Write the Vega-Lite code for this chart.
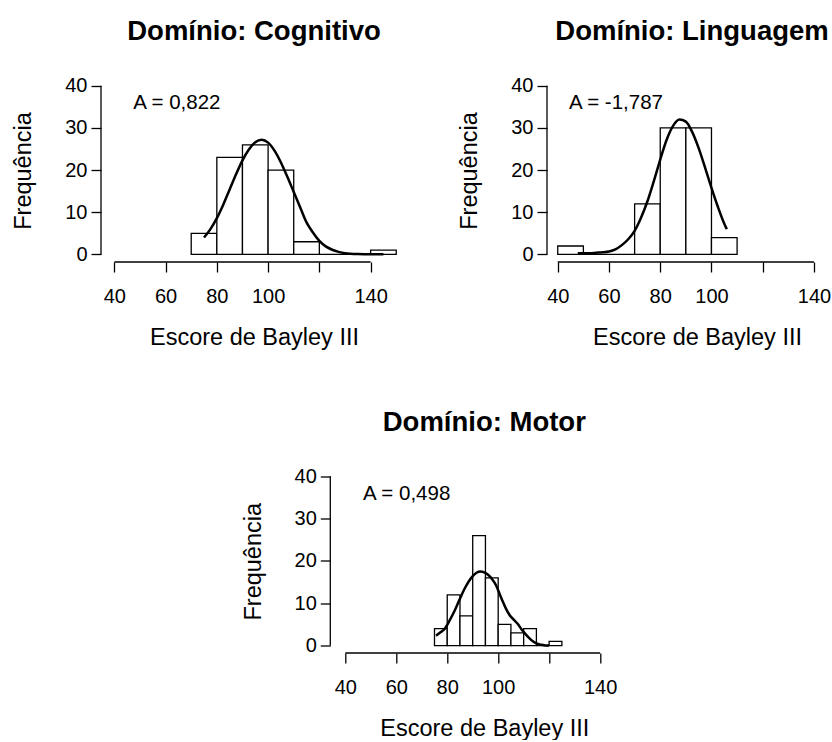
{
  "$schema": "https://vega.github.io/schema/vega-lite/v6.json",
  "background": "white",
  "padding": {"left": 11, "top": 18, "right": 0, "bottom": 0},
  "autosize": {"type": "pad"},
  "config": {
    "font": "Liberation Sans",
    "view": {"stroke": null},
    "axis": {"domain": false, "grid": false, "ticks": true, "tickColor": "black", "tickWidth": 1.3, "tickSize": 10, "labelColor": "black", "labelFontSize": 20, "labelFont": "Liberation Sans", "titleFont": "Liberation Sans", "titleFontSize": 23.5, "titleFontWeight": "normal", "titleColor": "black", "labelFlush": false},
    "axisX": {"labelPadding": 14, "titlePadding": 19, "labelAngle": 0},
    "axisY": {"labelPadding": 4, "titlePadding": 29, "labelAngle": 0, "labelAlign": "right", "labelBaseline": "middle"},
    "title": {"fontSize": 27.5, "fontWeight": "bold", "font": "Liberation Sans", "color": "black", "offset": 30, "anchor": "middle"}
  },
  "datasets": {
    "bins1": [
      {"x0": 70, "x1": 80, "n": 5}, {"x0": 80, "x1": 90, "n": 23}, {"x0": 90, "x1": 100, "n": 26}, {"x0": 100, "x1": 110, "n": 20},
      {"x0": 110, "x1": 120, "n": 3}, {"x0": 120, "x1": 130, "n": 0}, {"x0": 130, "x1": 140, "n": 0}, {"x0": 140, "x1": 150, "n": 1}
    ],
    "curve1": [
      {"x": 75, "y": 4.0}, {"x": 77.5, "y": 6.0}, {"x": 80, "y": 8.6}, {"x": 82.5, "y": 11.8}, {"x": 85, "y": 15.4},
      {"x": 87.5, "y": 19.0}, {"x": 90, "y": 22.3}, {"x": 92.5, "y": 24.9}, {"x": 95, "y": 26.6}, {"x": 97.5, "y": 27.2},
      {"x": 100, "y": 26.5}, {"x": 102.5, "y": 24.6}, {"x": 105, "y": 21.8}, {"x": 107.5, "y": 18.4}, {"x": 110, "y": 14.8},
      {"x": 112.5, "y": 11.2}, {"x": 115, "y": 7.6}, {"x": 117.5, "y": 5.2}, {"x": 120, "y": 3.2}, {"x": 122.5, "y": 1.9},
      {"x": 125, "y": 1.1}, {"x": 127.5, "y": 0.6}, {"x": 130, "y": 0.3}, {"x": 135, "y": 0.1}, {"x": 140, "y": 0.05}, {"x": 145, "y": 0.05}
    ],
    "bins2": [
      {"x0": 40, "x1": 50, "n": 2}, {"x0": 50, "x1": 60, "n": 0}, {"x0": 60, "x1": 70, "n": 0}, {"x0": 70, "x1": 80, "n": 12},
      {"x0": 80, "x1": 90, "n": 30}, {"x0": 90, "x1": 100, "n": 30}, {"x0": 100, "x1": 110, "n": 4}
    ],
    "curve2": [
      {"x": 47.8, "y": 0.3}, {"x": 52.5, "y": 0.3}, {"x": 55, "y": 0.4}, {"x": 57.5, "y": 0.5}, {"x": 60, "y": 0.7},
      {"x": 62.5, "y": 1.2}, {"x": 65, "y": 2.2}, {"x": 67.5, "y": 3.6}, {"x": 70, "y": 5.6}, {"x": 72.5, "y": 8.7},
      {"x": 75, "y": 12.6}, {"x": 77.5, "y": 17.4}, {"x": 80, "y": 22.5}, {"x": 82.5, "y": 27.2}, {"x": 85, "y": 30.5},
      {"x": 87.5, "y": 32.0}, {"x": 90, "y": 31.5}, {"x": 92.5, "y": 29.0}, {"x": 95, "y": 25.2}, {"x": 97.5, "y": 20.6},
      {"x": 100, "y": 15.8}, {"x": 102.5, "y": 11.3}, {"x": 105, "y": 7.3}, {"x": 106, "y": 6.0}
    ],
    "bins3": [
      {"x0": 75, "x1": 80, "n": 4}, {"x0": 80, "x1": 85, "n": 12}, {"x0": 85, "x1": 90, "n": 7}, {"x0": 90, "x1": 95, "n": 26},
      {"x0": 95, "x1": 100, "n": 16}, {"x0": 100, "x1": 105, "n": 5}, {"x0": 105, "x1": 110, "n": 3}, {"x0": 110, "x1": 115, "n": 4},
      {"x0": 115, "x1": 120, "n": 0}, {"x0": 120, "x1": 125, "n": 1}
    ],
    "curve3": [
      {"x": 75.6, "y": 2.3}, {"x": 77.5, "y": 3.2}, {"x": 78.9, "y": 3.9}, {"x": 81, "y": 6.0}, {"x": 82.8, "y": 8.1},
      {"x": 84.8, "y": 10.8}, {"x": 86.7, "y": 13.3}, {"x": 88.5, "y": 15.2}, {"x": 90, "y": 16.4}, {"x": 91.5, "y": 17.2},
      {"x": 93, "y": 17.5}, {"x": 94.5, "y": 17.3}, {"x": 95.9, "y": 16.8}, {"x": 97.5, "y": 15.8}, {"x": 99.2, "y": 14.2},
      {"x": 100.5, "y": 12.3}, {"x": 101.8, "y": 10.4}, {"x": 103, "y": 8.8}, {"x": 104.4, "y": 7.3}, {"x": 106, "y": 6.2},
      {"x": 107.7, "y": 5.1}, {"x": 109, "y": 4.0}, {"x": 110.3, "y": 3.0}, {"x": 112, "y": 1.9}, {"x": 113.6, "y": 1.0},
      {"x": 115, "y": 0.5}, {"x": 116.8, "y": 0.2}, {"x": 118.5, "y": 0.05}, {"x": 120, "y": 0.0}
    ]
  },
  "bounds": "flush",
  "spacing": 390.5,
  "vconcat": [
    {
      "bounds": "flush",
      "spacing": 140,
      "hconcat": [
        {
          "width": 306, "height": 183,
          "title": "Domínio: Cognitivo",
          "encoding": {
            "x": {"type": "quantitative", "scale": {"domain": [34.8, 154.2], "nice": false, "zero": false}, "axis": {"values": [40, 60, 80, 100, 120, 140], "labelExpr": "datum.value == 120 ? '' : datum.label"}, "title": "Escore de Bayley III"},
            "y": {"type": "quantitative", "scale": {"domain": [-1.8, 41.6], "nice": false, "zero": false}, "axis": {"values": [0, 10, 20, 30, 40]}, "title": "Frequência"}
          },
          "layer": [
            {"data": {"name": "bins1"},
             "mark": {"type": "rect", "fill": "white", "stroke": "black", "strokeWidth": 1.3},
             "encoding": {"x": {"field": "x0"}, "x2": {"field": "x1"}, "y": {"field": "n"}, "y2": {"datum": 0}}},
            {"data": {"name": "curve1"},
             "mark": {"type": "line", "color": "black", "strokeWidth": 2.5, "interpolate": "monotone"},
             "encoding": {"x": {"field": "x"}, "y": {"field": "y"}}},
            {"data": {"values": [{"label": "A = 0,822"}]},
             "mark": {"type": "text", "fontSize": 20.5, "color": "black", "align": "center", "baseline": "middle"},
             "encoding": {"x": {"datum": 64.4}, "y": {"datum": 36}, "text": {"field": "label"}}},
            {"data": {"values": [{}]},
             "mark": {"type": "rule", "color": "black", "strokeWidth": 1.3},
             "encoding": {"x": {"datum": 40}, "x2": {"datum": 140}, "y": {"datum": -1.8}}},
            {"data": {"values": [{}]},
             "mark": {"type": "rule", "color": "black", "strokeWidth": 1.3},
             "encoding": {"x": {"datum": 34.8}, "y": {"datum": 0}, "y2": {"datum": 40}}}
          ]
        },
        {
          "width": 300, "height": 183,
          "title": {"text": "Domínio: Linguagem", "dx": -5},
          "encoding": {
            "x": {"type": "quantitative", "scale": {"domain": [35.8, 152.9], "nice": false, "zero": false}, "axis": {"values": [40, 60, 80, 100, 120, 140], "labelExpr": "datum.value == 120 ? '' : datum.label"}, "title": "Escore de Bayley III"},
            "y": {"type": "quantitative", "scale": {"domain": [-1.8, 41.6], "nice": false, "zero": false}, "axis": {"values": [0, 10, 20, 30, 40]}, "title": "Frequência"}
          },
          "layer": [
            {"data": {"name": "bins2"},
             "mark": {"type": "rect", "fill": "white", "stroke": "black", "strokeWidth": 1.3},
             "encoding": {"x": {"field": "x0"}, "x2": {"field": "x1"}, "y": {"field": "n"}, "y2": {"datum": 0}}},
            {"data": {"name": "curve2"},
             "mark": {"type": "line", "color": "black", "strokeWidth": 2.5, "interpolate": "monotone"},
             "encoding": {"x": {"field": "x"}, "y": {"field": "y"}}},
            {"data": {"values": [{"label": "A = -1,787"}]},
             "mark": {"type": "text", "fontSize": 20.5, "color": "black", "align": "center", "baseline": "middle"},
             "encoding": {"x": {"datum": 62.7}, "y": {"datum": 36}, "text": {"field": "label"}}},
            {"data": {"values": [{}]},
             "mark": {"type": "rule", "color": "black", "strokeWidth": 1.3},
             "encoding": {"x": {"datum": 40}, "x2": {"datum": 140}, "y": {"datum": -1.8}}},
            {"data": {"values": [{}]},
             "mark": {"type": "rule", "color": "black", "strokeWidth": 1.3},
             "encoding": {"x": {"datum": 35.8}, "y": {"datum": 0}, "y2": {"datum": 40}}}
          ]
        }
      ]
    },
    {
      "bounds": "flush",
      "spacing": 228.3,
      "hconcat": [
        {
          "width": 1, "height": 183,
          "data": {"values": [{}]},
          "mark": {"type": "point", "opacity": 0}
        },
        {
          "width": 308, "height": 183.5,
          "title": "Domínio: Motor",
          "encoding": {
            "x": {"type": "quantitative", "scale": {"domain": [34.1, 155.0], "nice": false, "zero": false}, "axis": {"values": [40, 60, 80, 100, 120, 140], "labelExpr": "datum.value == 120 ? '' : datum.label"}, "title": "Escore de Bayley III"},
            "y": {"type": "quantitative", "scale": {"domain": [-1.75, 41.6], "nice": false, "zero": false}, "axis": {"values": [0, 10, 20, 30, 40]}, "title": "Frequência"}
          },
          "layer": [
            {"data": {"name": "bins3"},
             "mark": {"type": "rect", "fill": "white", "stroke": "black", "strokeWidth": 1.3},
             "encoding": {"x": {"field": "x0"}, "x2": {"field": "x1"}, "y": {"field": "n"}, "y2": {"datum": 0}}},
            {"data": {"name": "curve3"},
             "mark": {"type": "line", "color": "black", "strokeWidth": 2.5, "interpolate": "monotone"},
             "encoding": {"x": {"field": "x"}, "y": {"field": "y"}}},
            {"data": {"values": [{"label": "A = 0,498"}]},
             "mark": {"type": "text", "fontSize": 20.5, "color": "black", "align": "center", "baseline": "middle"},
             "encoding": {"x": {"datum": 64.1}, "y": {"datum": 35.9}, "text": {"field": "label"}}},
            {"data": {"values": [{}]},
             "mark": {"type": "rule", "color": "black", "strokeWidth": 1.3},
             "encoding": {"x": {"datum": 40}, "x2": {"datum": 140}, "y": {"datum": -1.75}}},
            {"data": {"values": [{}]},
             "mark": {"type": "rule", "color": "black", "strokeWidth": 1.3},
             "encoding": {"x": {"datum": 34.1}, "y": {"datum": 0}, "y2": {"datum": 40}}}
          ]
        }
      ]
    }
  ]
}
